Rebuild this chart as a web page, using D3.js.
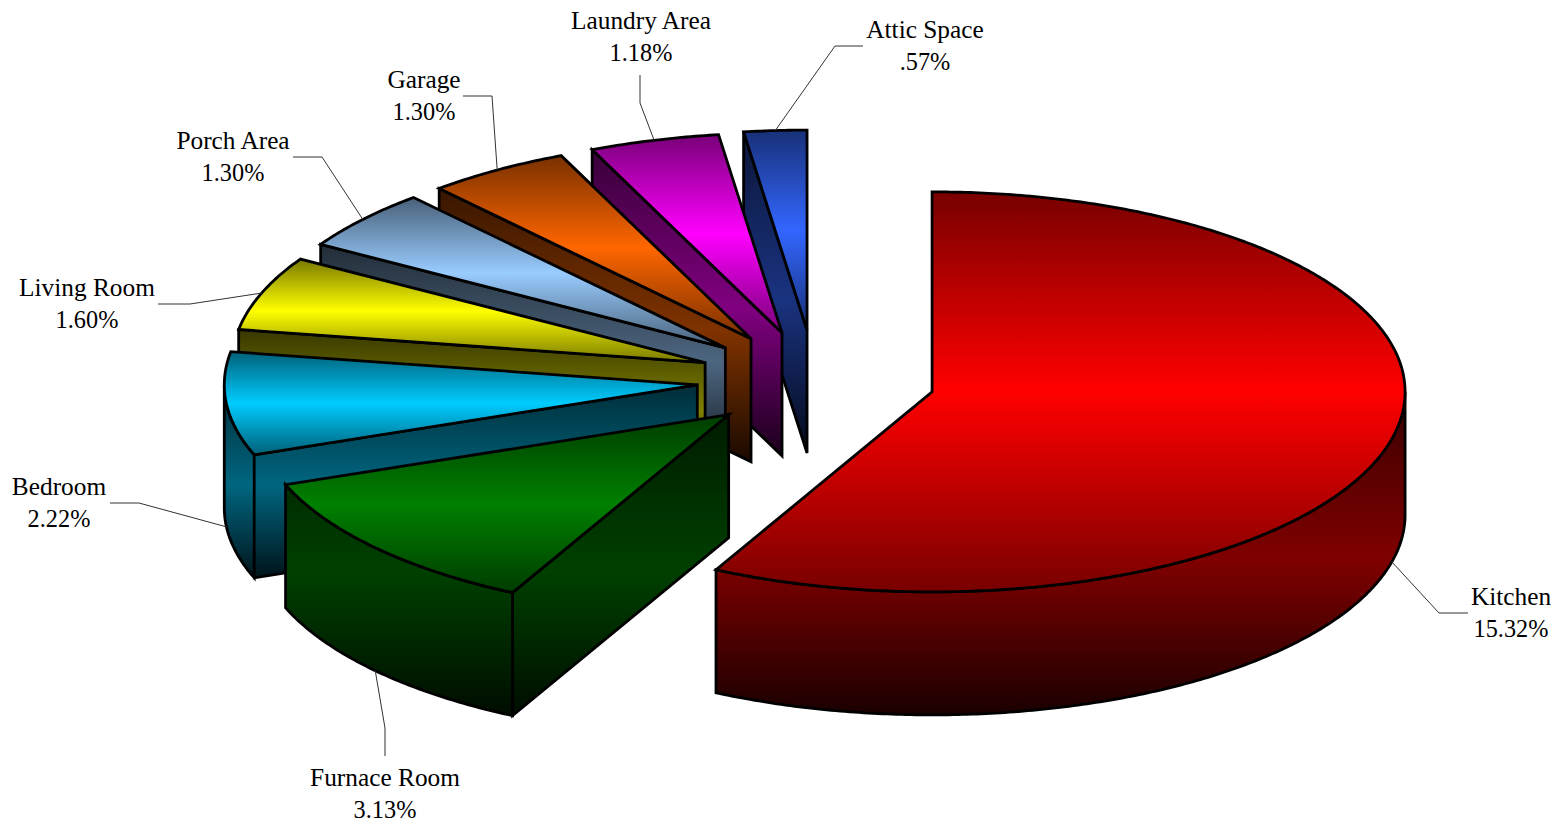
<!DOCTYPE html>
<html>
<head>
<meta charset="utf-8">
<script src="https://cdn.jsdelivr.net/npm/d3@7"></script>
<style>
html,body{margin:0;padding:0;background:#fff;overflow:hidden}
svg{display:block}
text{font-family:"Liberation Serif","Times New Roman",serif;font-size:25.33px;fill:#000;text-anchor:middle}
tspan.pct{font-size:24.3px}
</style>
</head>
<body>
<script>
// ---- data ----
const rooms = ["Kitchen","Furnace Room","Bedroom","Living Room","Porch Area","Garage","Laundry Area","Attic Space"];
const shares = [15.32,3.13,2.22,1.60,1.30,1.30,1.18,0.57];
const colors = ["#ff0000","#008000","#00ccff","#ffff00","#99ccff","#ff6600","#ff00ff","#3366ff"];

// ---- layout (label placement and small wedge offsets, not data) ----
const labelCenters = [[1511,605],[385,786],[59,495],[87,296],[233,149],[424,88],[641,29],[925,38]];
const leaderBends  = [
  [[1439,613],[1468,613]],
  [[385,728],[385,756]],
  [[139,503],[110,503]],
  [[190,304],[158,304]],
  [[322,157],[293,157]],
  [[492,96],[463,96]],
  [[640,103],[640,75]],
  [[835,46],[863,46]]
];
const explodeBy = [0.2525,0.25,0.25,0.25,0.25,0.25,0.25,0.25];
const nudgeX = [0,1,-1,0,0,-1.5,-2,-1];
const nudgeY = [0,1.5,0,0,0,1,1,0];
const W = 1560, H = 824;
const cx = 816, cy = 380, rx = 473, ry = 200, depth = 123, lineGap = 32;

const x = d3.scaleLinear().domain([-1,1]).range([cx-rx,cx+rx]);
const y = d3.scaleLinear().domain([-1,1]).range([cy-ry,cy+ry]);
const fmt = v => d3.format(".2f")(v).replace(/^0/,"") + "%";

const arcs = d3.pie().sort(null).value(d => d)(shares).map((a,i)=>{
  const mid = (a.startAngle+a.endAngle)/2, e = explodeBy[i];
  return {i, a0:a.startAngle, a1:a.endAngle, mid,
          ox:e*Math.sin(mid)+nudgeX[i]/rx, oy:-e*Math.cos(mid)+nudgeY[i]/ry};
});

const svg = d3.select("body").append("svg").attr("width",W).attr("height",H);
const defs = svg.append("defs");

function gradient(id, stops){
  const g = defs.append("linearGradient").attr("id",id).attr("x1",0).attr("y1",0).attr("x2",0).attr("y2",1);
  stops.forEach(([o,c])=>g.append("stop").attr("offset",o).attr("stop-color",c));
}
const shade = (c,k)=>{const r=d3.rgb(c);return d3.rgb(r.r*k,r.g*k,r.b*k).formatHex();};

colors.forEach((c,i)=>{
  gradient("top"+i,[[0,shade(c,.47)],[.5,c],[1,shade(c,.47)]]);
  gradient("side"+i,[[0,shade(c,.22)],[.52,shade(c,.5)],[1,shade(c,.1)]]);
});

const lineGen = d3.line().x(p=>p[0]).y(p=>p[1]);
const rim = (d,a,z)=>[x(d.ox+Math.sin(a)), y(d.oy-Math.cos(a))+z*depth];
const apex = (d,z)=>[x(d.ox), y(d.oy)+z*depth];
const sweep = (d,a0,a1,z)=>{
  const n = Math.max(2,Math.ceil((a1-a0)/0.01));
  return d3.range(n+1).map(k=>rim(d,a0+(a1-a0)*k/n,z));
};

function topPath(d){ return lineGen([apex(d,0),...sweep(d,d.a0,d.a1,0)])+"Z"; }
function sidePath(d){
  let s = "";
  if(Math.sin(d.a0) < -1e-6) s += lineGen([apex(d,0),rim(d,d.a0,0),rim(d,d.a0,1),apex(d,1)])+"Z";
  if(Math.sin(d.a1) >  1e-6) s += lineGen([apex(d,0),rim(d,d.a1,0),rim(d,d.a1,1),apex(d,1)])+"Z";
  const f0 = Math.max(d.a0,Math.PI/2), f1 = Math.min(d.a1,Math.PI*1.5);
  if(f1>f0) s += lineGen([...sweep(d,f0,f1,0),...sweep(d,f0,f1,1).reverse()])+"Z";
  return s;
}

// painter's order: back wedges first
const order = [arcs[0],...arcs.slice(1).reverse()];
const g = svg.selectAll("g.wedge").data(order).join("g").attr("class","wedge");
g.append("path").attr("d",sidePath).attr("fill",d=>`url(#side${d.i})`)
  .attr("stroke","#000").attr("stroke-width",2.8).attr("stroke-linejoin","miter");
g.append("path").attr("d",topPath).attr("fill",d=>`url(#top${d.i})`)
  .attr("stroke","#000").attr("stroke-width",2.8).attr("stroke-linejoin","miter");

// leader lines
svg.selectAll("path.leader").data(arcs).join("path").attr("class","leader")
  .attr("fill","none").attr("stroke","#333").attr("stroke-width",1)
  .attr("d",d=>{
    const front = d.mid>Math.PI/2 && d.mid<Math.PI*1.5;
    return lineGen([rim(d,d.mid,front?1:0),...leaderBends[d.i]]);
  });

// labels
const lab = svg.selectAll("text.label").data(arcs).join("text").attr("class","label");
lab.append("tspan").attr("x",d=>labelCenters[d.i][0]).attr("y",d=>labelCenters[d.i][1]).text(d=>rooms[d.i]);
lab.append("tspan").attr("class","pct").attr("x",d=>labelCenters[d.i][0]).attr("y",d=>labelCenters[d.i][1]+lineGap).text(d=>fmt(shares[d.i]));
</script>
</body>
</html>
